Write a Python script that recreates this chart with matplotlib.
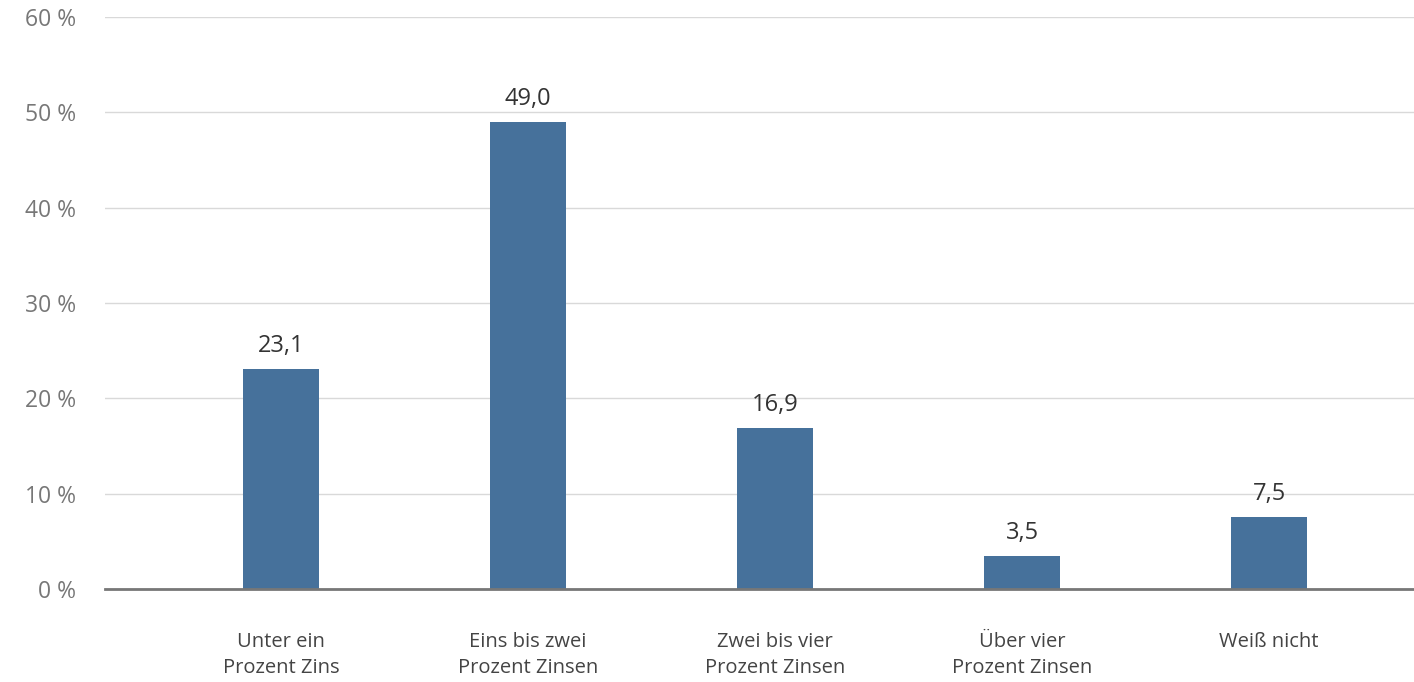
import matplotlib
matplotlib.use("Agg")
import matplotlib.pyplot as plt

categories = ["Unter ein\nProzent Zins", "Eins bis zwei\nProzent Zinsen",
              "Zwei bis vier\nProzent Zinsen", "Über vier\nProzent Zinsen",
              "Weiß nicht"]
values = [23.1, 49.0, 16.9, 3.5, 7.5]
value_labels = ["23,1", "49,0", "16,9", "3,5", "7,5"]
y_ticks = [0, 10, 20, 30, 40, 50, 60]
y_tick_labels = ["0 %", "10 %", "20 %", "30 %", "40 %", "50 %", "60 %"]

plt.rcParams["font.family"] = ["Open Sans", "DejaVu Sans"]

fig = plt.figure(figsize=(14.14, 6.82), dpi=100)
ax = fig.add_axes([0.0743, 0.1364, 0.9257, 0.8386])

x = list(range(len(categories)))
ax.bar(x, values, width=0.31, color="#46719b", zorder=3)

for xi, v, lab in zip(x, values, value_labels):
    ax.annotate(lab, (xi, v), xytext=(0, 8), textcoords="offset points",
                ha="center", va="bottom", fontsize=17, color="#333333")

ax.set_xlim(-0.713, 4.587)
ax.set_ylim(0, 60)
ax.set_yticks(y_ticks)
ax.set_yticklabels(y_tick_labels, fontsize=16.5, color="#777777")
ax.set_xticks(x)
ax.set_xticklabels(categories, fontsize=14.5, color="#444444", linespacing=1.4)
ax.tick_params(axis="y", length=0, pad=21)
ax.tick_params(axis="x", length=0, pad=31)

ax.grid(axis="y", color="#d9d9d9", linewidth=1, zorder=0)
for s in ["top", "right", "left"]:
    ax.spines[s].set_visible(False)
ax.spines["bottom"].set_color("#777777")
ax.spines["bottom"].set_linewidth(2)
ax.spines["bottom"].set_zorder(4)

fig.savefig("out.png", dpi=100)
